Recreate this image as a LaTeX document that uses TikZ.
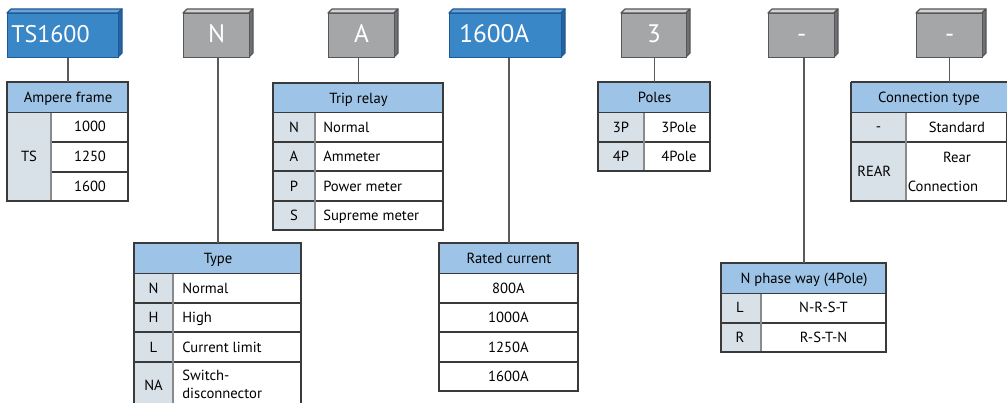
\documentclass[tikz,border=0pt]{standalone}
\usepackage{fontspec}
\setmainfont{PT Sans}
\usetikzlibrary{calc}
\definecolor{hdrC}{HTML}{9DC3E6}
\definecolor{lcolC}{HTML}{D8E0E8}
\definecolor{lineC}{HTML}{3A3A3A}
\definecolor{vlineC}{HTML}{8A8A8A}
\definecolor{connC}{HTML}{5A5A5A}
\definecolor{bluefront}{HTML}{3A87C8}
\definecolor{bluetop}{HTML}{6BA3D8}
\definecolor{blueside}{HTML}{2562A0}
\definecolor{blueedge}{HTML}{1E5A96}
\definecolor{grayfront}{HTML}{A4A6A8}
\definecolor{graytop}{HTML}{D2D2D2}
\definecolor{grayside}{HTML}{6E7072}
\definecolor{grayedge}{HTML}{55575A}
\newcommand\cubebox[6]{% name, x1, y1, x2, y2, kind
  \filldraw[fill=#6top,draw=#6edge,line width=0.9pt,line join=round] (#2,#3+4) -- (#2+4,#3) -- (#4,#3) -- (#4-4,#3+4) -- cycle;
  \filldraw[fill=#6side,draw=#6edge,line width=0.9pt,line join=round] (#4-4,#3+4) -- (#4,#3) -- (#4,#5-4) -- (#4-4,#5) -- cycle;
  \node[draw=#6edge,fill=#6front,line width=0.9pt,inner sep=0pt,anchor=north west,
        minimum width={(#4-#2-4)*0.75pt},minimum height={(#5-#3-4)*0.75pt}] (#1) at (#2,#3+4) {};
}
\newcommand\hdrnode[6]{% name, x1, y1, x2, y2, text
  \node[fill=hdrC,draw=lineC,line width=0.8pt,inner sep=0pt,anchor=north west,txt,
        minimum width={(#4-#2)*0.75pt},minimum height={(#5-#3)*0.75pt}] (#1) at (#2,#3) {};
  \node[txt] (#1t) at ($(#1.center)+(0,0.5)$) {#6};
}
\begin{document}
\begin{tikzpicture}[x=0.75pt,y=-0.75pt,
  txt/.style={font=\fontsize{11pt}{12pt}\selectfont,inner sep=0pt,text height=0.7em,text depth=0pt},
  btxt/.style={font=\fontsize{19pt}{22pt}\selectfont,text=white,inner sep=0pt,text height=0.7em,text depth=0pt},
  cellL/.style={fill=lcolC,draw=lineC,line width=0.8pt},
  cellR/.style={fill=white,draw=lineC,line width=0.8pt},
  vsep/.style={draw=vlineC,line width=0.8pt},
  outer/.style={draw=lineC,line width=0.9pt},
  conn/.style={draw=connC,line width=0.9pt}]
\useasboundingbox (0,0) rectangle (1007,403);
\clip (0,0) rectangle (1007,403);
\fill[white] (0,0) rectangle (1007,403);

% ---------- top boxes ----------
\cubebox{bTS}{7}{9}{122}{57}{blue}
\node[btxt,font=\fontsize{18pt}{22pt}\selectfont,text height=0.72em,anchor=west] (tTS) at (11,37.5) {TS1600};
\cubebox{bN}{183}{9}{253}{57}{gray}
\node[btxt] (tN) at ($(bN.center)+(0,2.5)$) {N};
\cubebox{bA}{328}{9}{398}{57}{gray}
\node[btxt] (tA) at ($(bA.center)+(0,2.5)$) {A};
\cubebox{bRC}{449}{9}{565}{57}{blue}
\node[btxt,anchor=west] (tRC) at (459,37.5) {1600A};
\cubebox{bP}{621}{9}{690}{57}{gray}
\node[btxt] (tP) at ($(bP.center)+(0,2.5)$) {3};
\cubebox{bNP}{768}{9}{838}{57}{gray}
\node[btxt] (tNP) at ($(bNP.center)+(0,2.5)$) {-};
\cubebox{bCT}{916}{9}{986}{57}{gray}
\node[btxt] (tCT) at ($(bCT.center)+(0,2.5)$) {-};

% ---------- Ampere frame ----------
\filldraw[cellL] (7,112) rectangle (51,201);
\filldraw[cellR] (51,112) rectangle (128,142);
\filldraw[cellR] (51,142) rectangle (128,172);
\filldraw[cellR] (51,172) rectangle (128,201);
\draw[vsep] (51,112) -- (51,201);
\hdrnode{hAF}{7}{82}{128}{112}{Ampere frame}
\draw[outer] (7,82) rectangle (128,201);
\node[txt] (afL) at (29,156.5) {TS};
\node[txt] (af1) at (90,127) {1000};
\node[txt] (af2) at (90,157) {1250};
\node[txt] (af3) at (90,186.5) {1600};
\draw[conn] (bTS.south -| hAF.north) -- (hAF.north);

% ---------- Type ----------
\filldraw[cellL] (134,273) rectangle (173,303);
\filldraw[cellL] (134,303) rectangle (173,332);
\filldraw[cellL] (134,332) rectangle (173,362);
\filldraw[cellL] (134,362) rectangle (173,430);
\filldraw[cellR] (173,273) rectangle (301,303);
\filldraw[cellR] (173,303) rectangle (301,332);
\filldraw[cellR] (173,332) rectangle (301,362);
\filldraw[cellR] (173,362) rectangle (301,430);
\draw[vsep] (173,273) -- (173,430);
\hdrnode{hTY}{134}{243}{301}{273}{Type}
\draw[outer] (134,243) rectangle (301,430);
\node[txt] (tyL1) at (153.5,288.5) {N};
\node[txt] (tyL2) at (153.5,318) {H};
\node[txt] (tyL3) at (153.5,347.5) {L};
\node[txt] (tyL4) at (153.5,386) {NA};
\node[txt,anchor=west] (tyR1) at (182,288.5) {Normal};
\node[txt,anchor=west] (tyR2) at (182,318) {High};
\node[txt,anchor=west] (tyR3) at (182,347.5) {Current limit};
\node[txt,anchor=west] (tyR4) at (182,375.5) {Switch-};
\node[txt,anchor=west] (tyR5) at (182,394) {disconnector};
\draw[conn] (bN.south -| hTY.north) -- (hTY.north);

% ---------- Trip relay ----------
\filldraw[cellL] (273,112) rectangle (315,142);
\filldraw[cellL] (273,142) rectangle (315,171);
\filldraw[cellL] (273,171) rectangle (315,201);
\filldraw[cellL] (273,201) rectangle (315,230);
\filldraw[cellR] (315,112) rectangle (443,142);
\filldraw[cellR] (315,142) rectangle (443,171);
\filldraw[cellR] (315,171) rectangle (443,201);
\filldraw[cellR] (315,201) rectangle (443,230);
\draw[vsep] (315,112) -- (315,230);
\hdrnode{hTR}{273}{83}{443}{112}{Trip relay}
\draw[outer] (273,83) rectangle (443,230);
\node[txt] (trL1) at (294,127.5) {N};
\node[txt] (trL2) at (294,157) {A};
\node[txt] (trL3) at (294,186.5) {P};
\node[txt] (trL4) at (294,216) {S};
\node[txt,anchor=west] (trR1) at (323,127.5) {Normal};
\node[txt,anchor=west] (trR2) at (323,157) {Ammeter};
\node[txt,anchor=west] (trR3) at (323,186.5) {Power meter};
\node[txt,anchor=west] (trR4) at (323,216) {Supreme meter};
\draw[conn] (bA.south -| hTR.north) -- (hTR.north);

% ---------- Rated current ----------
\filldraw[cellR] (439,273) rectangle (578,303);
\filldraw[cellR] (439,303) rectangle (578,332);
\filldraw[cellR] (439,332) rectangle (578,362);
\filldraw[cellR] (439,362) rectangle (578,391);
\hdrnode{hRC}{439}{243}{578}{273}{Rated current}
\draw[outer] (439,243) rectangle (578,391);
\node[txt] (rc1) at (508.5,288.5) {800A};
\node[txt] (rc2) at (508.5,318) {1000A};
\node[txt] (rc3) at (508.5,347.5) {1250A};
\node[txt] (rc4) at (508.5,377) {1600A};
\draw[conn] (bRC.south -| hRC.north) -- (hRC.north);

% ---------- Poles ----------
\filldraw[cellL] (598,112) rectangle (644,142);
\filldraw[cellL] (598,142) rectangle (644,171);
\filldraw[cellR] (644,112) rectangle (710,142);
\filldraw[cellR] (644,142) rectangle (710,171);
\draw[vsep] (644,112) -- (644,171);
\hdrnode{hPO}{598}{82}{710}{112}{Poles}
\draw[outer] (598,82) rectangle (710,171);
\node[txt] (poL1) at (621,127.5) {3P};
\node[txt] (poL2) at (621,157) {4P};
\node[txt] (poR1) at (679,127.5) {3Pole};
\node[txt] (poR2) at (679,157) {4Pole};
\draw[conn] (bP.south -| hPO.north) -- (hPO.north);

% ---------- N phase way ----------
\filldraw[cellL] (721,293) rectangle (761,323);
\filldraw[cellL] (721,323) rectangle (761,352);
\filldraw[cellR] (761,293) rectangle (886,323);
\filldraw[cellR] (761,323) rectangle (886,352);
\draw[vsep] (761,293) -- (761,352);
\hdrnode{hNP}{721}{263}{886}{293}{N phase way (4Pole)}
\draw[outer] (721,263) rectangle (886,352);
\node[txt] (npL1) at (740,308) {L};
\node[txt] (npL2) at (740,337.5) {R};
\node[txt] (npR1) at (823.5,308) {N-R-S-T};
\node[txt] (npR2) at (823.5,337.5) {R-S-T-N};
\draw[conn] (bNP.south -| hNP.north) -- (hNP.north);

% ---------- Connection type ----------
\filldraw[cellL] (851,112) rectangle (906,142);
\filldraw[cellL] (851,142) rectangle (906,201);
\filldraw[cellR] (906,112) rectangle (1007,142);
\filldraw[cellR] (906,142) rectangle (1007,201);
\draw[vsep] (906,112) -- (906,201);
\hdrnode{hCT}{851}{82}{1012}{112}{}
\node[txt] (hCTtext) at (929,97.5) {Connection type};
\draw[outer] (851,82) -- (1012,82) (851,82) -- (851,201) -- (1012,201);
\node[txt] (ctL1) at (878.5,127) {-};
\node[txt,anchor=west] (ctL2) at (857,172) {REAR};
\node[txt] (ctR1) at (957,127.5) {Standard};
\node[txt] (ctR2) at (957,158) {Rear};
\node[txt,anchor=west] (ctR3) at (907.5,187) {Connection};
\draw[conn] (bCT.south) -- (bCT.south |- hCT.north);
\end{tikzpicture}
\end{document}
